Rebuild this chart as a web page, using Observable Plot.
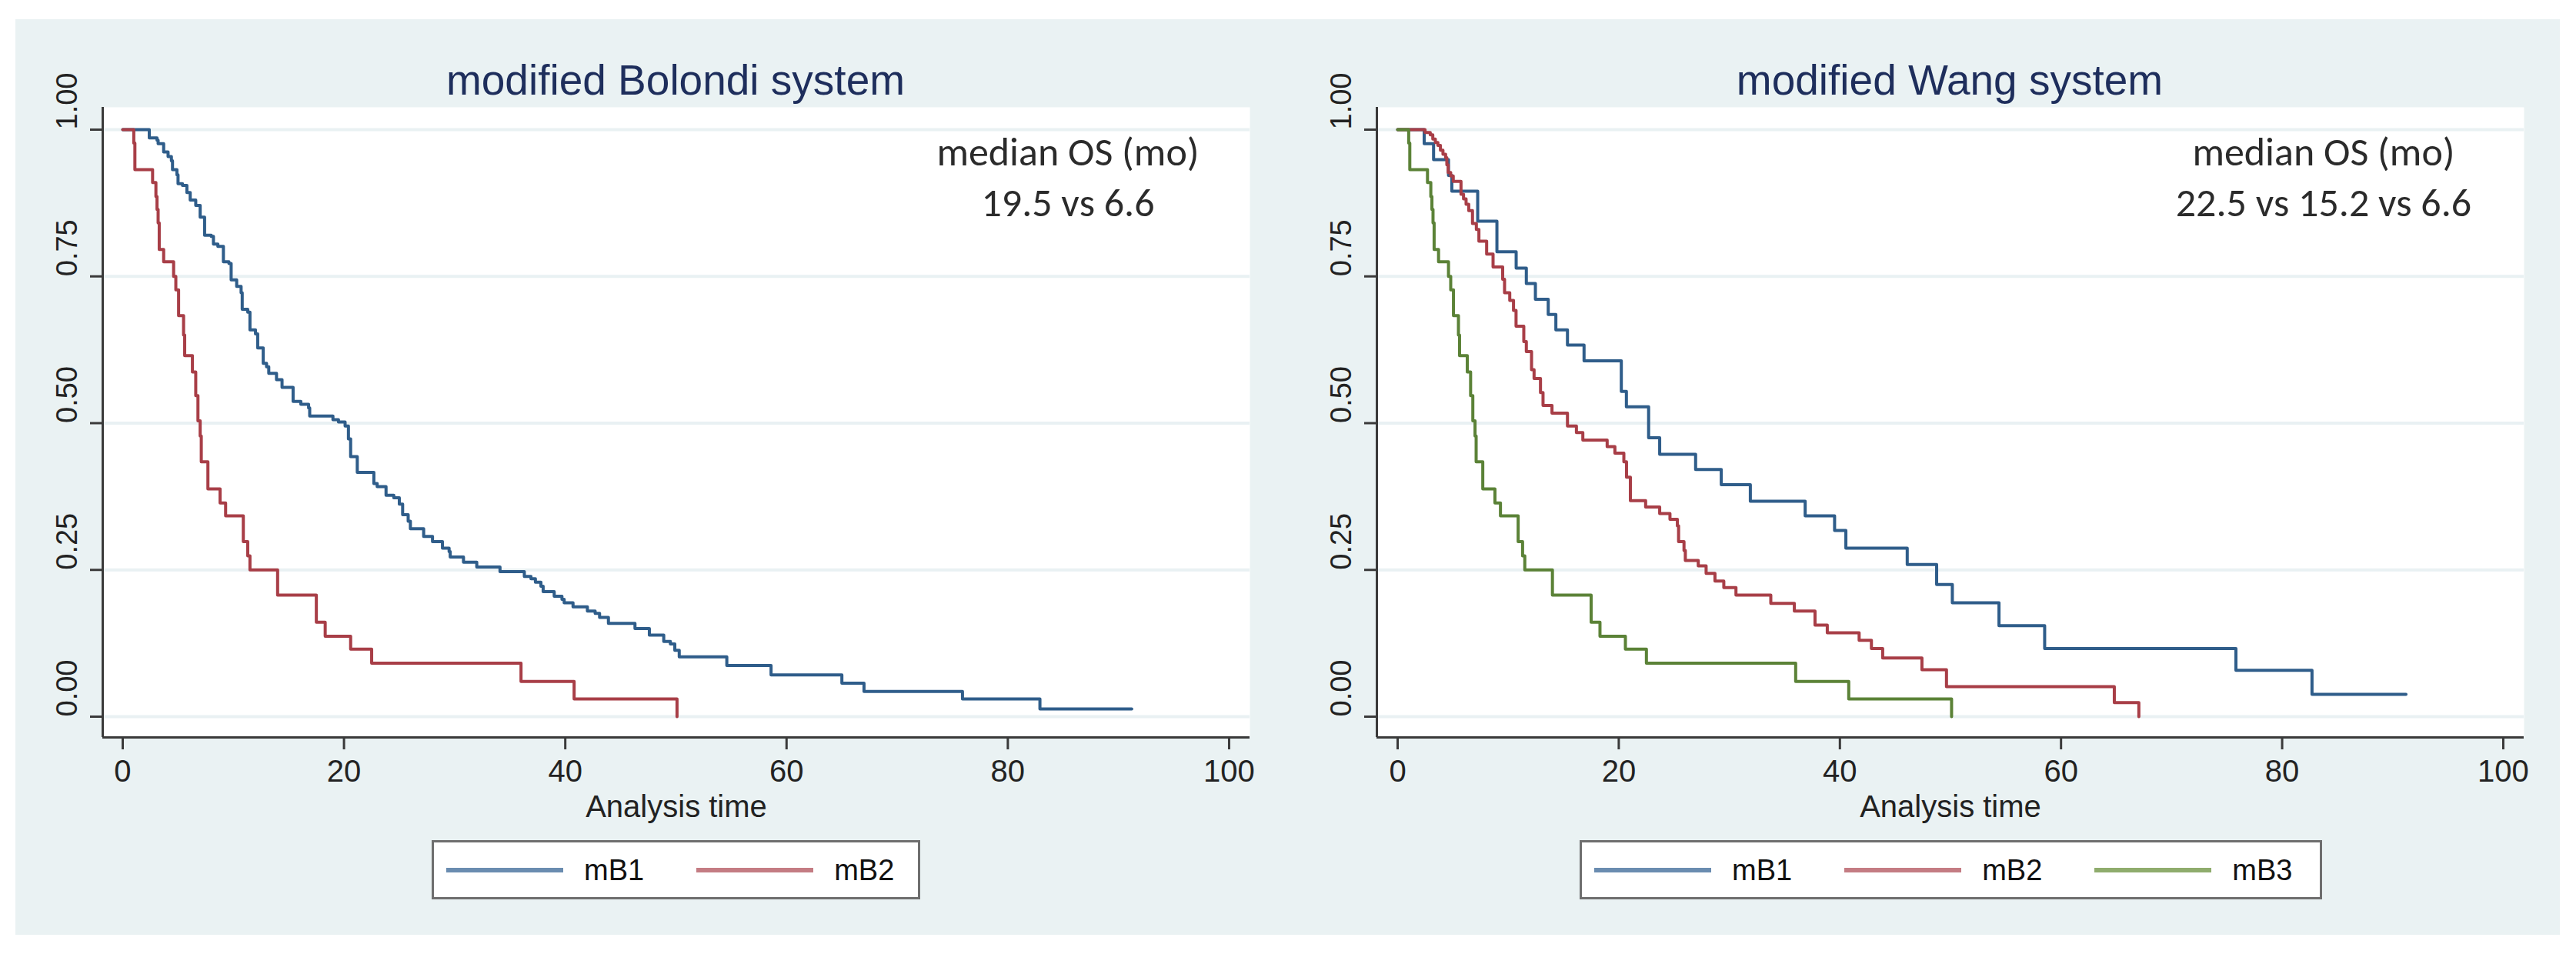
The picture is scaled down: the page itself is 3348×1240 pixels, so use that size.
<!DOCTYPE html>
<html><head><meta charset="utf-8">
<script src="https://cdn.jsdelivr.net/npm/d3@7"></script>
<script src="https://cdn.jsdelivr.net/npm/@observablehq/plot@0.6"></script>
<style>
body{margin:0;width:3348px;height:1240px;background:#fff;position:relative;overflow:hidden;font-family:"Liberation Sans",Arial,sans-serif;}
#bg{position:absolute;left:20px;top:25px;width:3307px;height:1190px;background:#eaf2f3;z-index:0;}
.title{position:absolute;top:77px;width:1000px;text-align:center;font-size:55px;line-height:55px;color:#1e2e5c;white-space:nowrap;z-index:3;}
.note{position:absolute;top:164px;width:700px;text-align:center;font-family:Carlito,Lato,sans-serif;font-size:52px;line-height:66px;color:#2b2b2b;white-space:nowrap;z-index:3;}
.panel{position:absolute;top:130px;z-index:1;}
.legend{position:absolute;top:1092px;height:77px;box-sizing:border-box;border:3px solid #6e6e6e;background:#fff;display:flex;align-items:center;padding-left:16px;z-index:2;}
.item{display:flex;align-items:center;margin-right:68px;}
.item:last-child{margin-right:0;}
.swatch{width:152px;height:6px;margin-right:27px;}
.lab{font-size:38px;line-height:38px;color:#111;}
</style></head><body>
<div id="bg"></div>
<div id="left" class="panel" style="left:20px"></div>
<div id="right" class="panel" style="left:1670px"></div>
<div class="title" style="left:378px">modified Bolondi system</div>
<div class="title" style="left:2034px">modified Wang system</div>
<div class="note" style="left:1038px">median OS (mo)<br>19.5 vs 6.6</div>
<div class="note" style="left:2670px">median OS (mo)<br>22.5 vs 15.2 vs 6.6</div>
<div id="legL" class="legend" style="left:561px;width:635px"></div>
<div id="legR" class="legend" style="left:2053px;width:965px"></div>
<script>
// ---- tick labels ----
const xTicks = [0, 20, 40, 60, 80, 100];
const yTicks = [0, 0.25, 0.5, 0.75, 1];
const seriesNames = ["mB1", "mB2", "mB3"];

// ---- modified Bolondi system ----
const bolondiMB1Time = [0, 2.4, 3.1, 3.2, 3.7, 4.1, 4.4, 4.5, 4.9, 5.0, 5.4, 5.8, 6.1, 6.6, 7.0, 7.4, 8.0, 8.2, 8.6, 9.1, 9.6, 9.8, 10.3, 10.7, 10.8, 11.3, 11.5, 12.0, 12.2, 12.7, 13.0, 13.2, 13.9, 14.4, 15.4, 16.1, 16.8, 16.9, 19.0, 19.5, 20.1, 20.4, 20.6, 21.2, 22.7, 23.0, 23.8, 24.5, 25.0, 25.3, 25.8, 26.0, 27.2, 28.0, 28.9, 29.5, 29.6, 30.8, 32.0, 34.1, 36.3, 36.9, 37.3, 37.8, 38.0, 39.0, 39.7, 39.9, 40.7, 42.0, 42.7, 43.1, 43.9, 46.3, 47.6, 48.9, 49.5, 49.9, 50.3, 54.6, 58.6, 65.0, 67.0, 75.9, 82.9, 91.2];
const bolondiMB1Surv = [1, 0.986, 0.982, 0.976, 0.962, 0.954, 0.947, 0.932, 0.923, 0.908, 0.905, 0.893, 0.880, 0.871, 0.851, 0.820, 0.818, 0.805, 0.801, 0.775, 0.772, 0.744, 0.733, 0.722, 0.694, 0.689, 0.659, 0.652, 0.628, 0.602, 0.596, 0.585, 0.574, 0.561, 0.537, 0.532, 0.526, 0.512, 0.506, 0.502, 0.495, 0.473, 0.443, 0.416, 0.397, 0.392, 0.377, 0.373, 0.362, 0.344, 0.333, 0.320, 0.307, 0.298, 0.287, 0.281, 0.272, 0.263, 0.255, 0.247, 0.239, 0.235, 0.229, 0.222, 0.213, 0.205, 0.200, 0.194, 0.187, 0.180, 0.176, 0.169, 0.159, 0.150, 0.139, 0.128, 0.124, 0.113, 0.102, 0.087, 0.071, 0.057, 0.043, 0.030, 0.013, 0.013];
const bolondiMB2Time = [0, 1.0, 1.1, 2.7, 3.0, 3.1, 3.2, 3.3, 3.7, 4.6, 4.8, 5.05, 5.5, 5.6, 6.3, 6.6, 6.8, 7.0, 7.1, 7.7, 8.8, 9.3, 10.9, 11.3, 11.5, 14.0, 17.5, 18.3, 20.6, 22.5, 36.0, 40.8, 50.1];
const bolondiMB2Surv = [1, 0.977, 0.932, 0.910, 0.886, 0.864, 0.841, 0.796, 0.775, 0.750, 0.727, 0.683, 0.650, 0.615, 0.587, 0.547, 0.504, 0.478, 0.434, 0.388, 0.364, 0.342, 0.298, 0.274, 0.250, 0.207, 0.161, 0.137, 0.115, 0.091, 0.060, 0.030, 0];

// ---- modified Wang system ----
const wangMB1Time = [0, 2.4, 3.25, 4.6, 4.9, 7.24, 8.98, 10.72, 11.64, 12.46, 13.62, 14.31, 15.36, 16.86, 20.23, 20.69, 22.7, 23.7, 26.95, 29.27, 31.9, 36.86, 39.52, 40.54, 46.09, 48.75, 50.17, 54.39, 58.52, 75.82, 82.7, 91.2];
const wangMB1Surv = [1, 0.976, 0.949, 0.922, 0.895, 0.844, 0.792, 0.764, 0.738, 0.711, 0.685, 0.659, 0.633, 0.606, 0.554, 0.528, 0.475, 0.447, 0.421, 0.395, 0.367, 0.342, 0.317, 0.287, 0.259, 0.225, 0.194, 0.155, 0.116, 0.079, 0.038, 0.038];
const wangMB2Time = [0, 2.48, 2.95, 3.18, 3.41, 3.64, 3.87, 4.1, 4.34, 4.45, 4.57, 4.8, 5.03, 5.73, 5.96, 6.19, 6.43, 6.77, 7.12, 7.35, 8.05, 8.63, 9.5, 9.67, 10.14, 10.48, 10.71, 11.41, 11.64, 12.11, 12.34, 12.92, 13.15, 13.96, 15.36, 16.17, 16.75, 18.95, 19.65, 20.46, 20.7, 21.05, 22.43, 23.7, 24.63, 25.3, 25.41, 25.9, 26.02, 27.19, 27.9, 28.7, 29.5, 30.6, 33.75, 35.88, 37.75, 38.86, 41.74, 42.85, 43.87, 47.42, 49.64, 64.82, 67.04];
const wangMB2Surv = [1, 0.995, 0.991, 0.984, 0.978, 0.973, 0.965, 0.958, 0.952, 0.940, 0.927, 0.921, 0.912, 0.890, 0.882, 0.873, 0.862, 0.840, 0.830, 0.810, 0.788, 0.766, 0.745, 0.722, 0.709, 0.692, 0.665, 0.639, 0.622, 0.591, 0.576, 0.552, 0.530, 0.517, 0.495, 0.484, 0.471, 0.460, 0.449, 0.434, 0.408, 0.368, 0.357, 0.346, 0.336, 0.325, 0.298, 0.283, 0.266, 0.257, 0.244, 0.231, 0.220, 0.207, 0.193, 0.180, 0.156, 0.143, 0.130, 0.116, 0.100, 0.080, 0.051, 0.024, 0];
const wangMB3Time = [0, 1.0, 1.1, 2.7, 3.0, 3.1, 3.2, 3.3, 3.7, 4.6, 4.8, 5.05, 5.5, 5.6, 6.3, 6.6, 6.8, 7.0, 7.1, 7.7, 8.8, 9.3, 10.9, 11.3, 11.5, 14.0, 17.5, 18.3, 20.6, 22.5, 36.0, 40.8, 50.1];
const wangMB3Surv = [1, 0.977, 0.932, 0.910, 0.886, 0.864, 0.841, 0.796, 0.775, 0.750, 0.727, 0.683, 0.650, 0.615, 0.587, 0.547, 0.504, 0.478, 0.434, 0.388, 0.364, 0.342, 0.298, 0.274, 0.250, 0.207, 0.161, 0.137, 0.115, 0.091, 0.060, 0.030, 0];

// ---- styling ----
const lineColors = ["#2f5d8a", "#a83e47", "#5b8237"];
const legendColors = ["#6a8cb0", "#c47c83", "#8fac6d"];
const gridColor = "#e9f1f3";
const axisColor = "#3a3a3a";
const yDomain = [-0.0354, 1.038];

const toRows = (ts, ss) => ts.map((t, i) => ({t, s: ss[i]}));

function panel(series, xDomain, mL, mR) {
  return Plot.plot({
    width: 1650, height: 950,
    marginLeft: mL, marginRight: mR, marginTop: 9, marginBottom: 122,
    x: {domain: xDomain},
    y: {domain: yDomain},
    style: {background: "transparent", overflow: "visible", fontFamily: "'Liberation Sans', Arial, sans-serif"},
    marks: [
      Plot.frame({fill: "white", stroke: null}),
      Plot.gridY(yTicks, {stroke: gridColor, strokeOpacity: 1, strokeWidth: 4}),
      ...series.map((rows, i) => Plot.line(rows, {x: "t", y: "s", curve: "step-after", stroke: lineColors[i], strokeWidth: 4})),
      Plot.ruleX([xDomain[0]], {stroke: axisColor, strokeWidth: 3}),
      Plot.ruleY([yDomain[0]], {stroke: axisColor, strokeWidth: 3}),
      Plot.axisX({ticks: xTicks, tickSize: 16, tickPadding: 13, fontSize: 40, stroke: axisColor, fill: "#222", strokeWidth: 3, label: null}),
      Plot.axisY({ticks: yTicks, tickSize: 16, tickFormat: () => "", stroke: axisColor, strokeWidth: 3, label: null}),
      Plot.text(yTicks, {y: d => d, text: d => d.toFixed(2), frameAnchor: "left", dx: -46, rotate: -90, fontSize: 38, fill: "#222"}),
      Plot.text(["Analysis time"], {frameAnchor: "bottom", dy: 75, lineAnchor: "top", fontSize: 40, fill: "#222"})
    ]
  });
}

document.getElementById("left").append(panel(
  [toRows(bolondiMB1Time, bolondiMB1Surv), toRows(bolondiMB2Time, bolondiMB2Surv)],
  [-1.808, 101.88], 113, 46));
document.getElementById("right").append(panel(
  [toRows(wangMB1Time, wangMB1Surv), toRows(wangMB2Time, wangMB2Surv), toRows(wangMB3Time, wangMB3Surv)],
  [-1.879, 101.88], 119, 40));

function legend(el, n) {
  for (let i = 0; i < n; i++) {
    const item = document.createElement("div");
    item.className = "item";
    const sw = document.createElement("div");
    sw.className = "swatch";
    sw.style.background = legendColors[i];
    const lab = document.createElement("div");
    lab.className = "lab";
    lab.textContent = seriesNames[i];
    item.append(sw, lab);
    el.append(item);
  }
}
legend(document.getElementById("legL"), 2);
legend(document.getElementById("legR"), 3);
</script>
</body></html>
